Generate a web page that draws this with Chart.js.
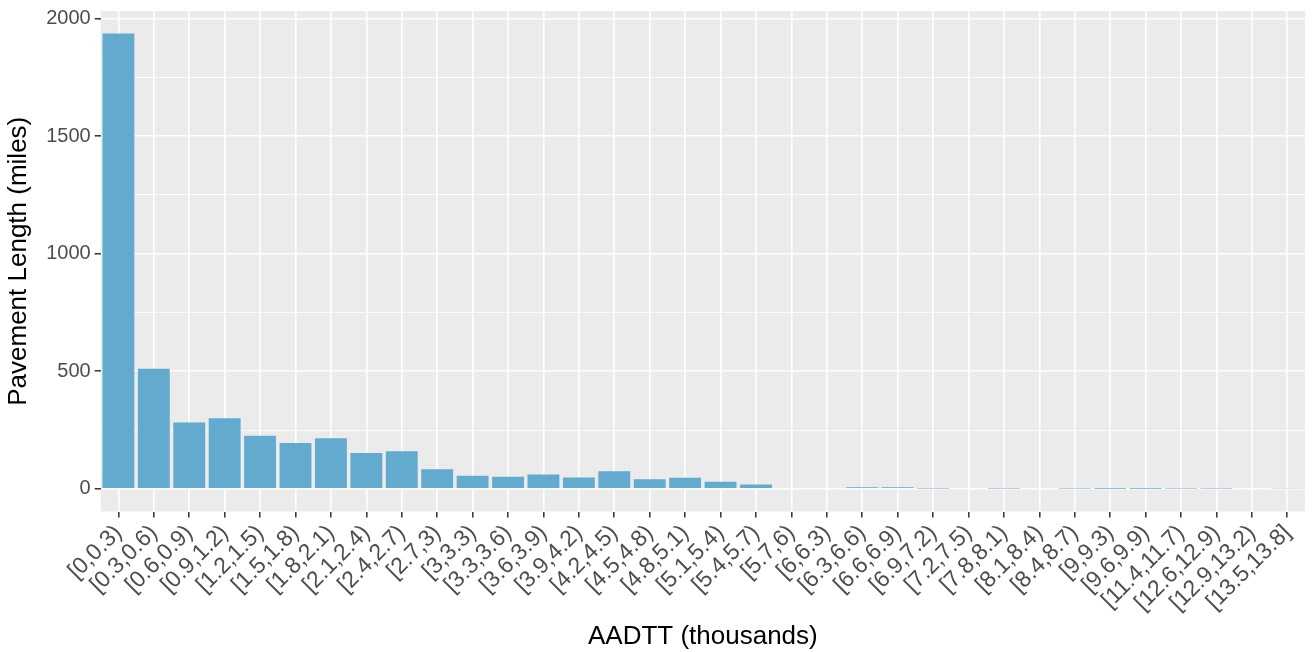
<!DOCTYPE html>
<html>
<head>
<meta charset="utf-8">
<script src="https://cdn.jsdelivr.net/npm/chart.js@4"></script>
<style>
  body { margin: 0; background: #fff; }
  #wrap { width: 1315px; height: 652px; }
</style>
</head>
<body>
<div id="wrap"><canvas id="bar-chart" width="1315" height="652"></canvas></div>
<script>
// AADTT bins (thousands)
const bins = [
  "[0,0.3)", "[0.3,0.6)", "[0.6,0.9)", "[0.9,1.2)", "[1.2,1.5)", "[1.5,1.8)",
  "[1.8,2.1)", "[2.1,2.4)", "[2.4,2.7)", "[2.7,3)", "[3,3.3)", "[3.3,3.6)",
  "[3.6,3.9)", "[3.9,4.2)", "[4.2,4.5)", "[4.5,4.8)", "[4.8,5.1)", "[5.1,5.4)",
  "[5.4,5.7)", "[5.7,6)", "[6,6.3)", "[6.3,6.6)", "[6.6,6.9)", "[6.9,7.2)",
  "[7.2,7.5)", "[7.8,8.1)", "[8.1,8.4)", "[8.4,8.7)", "[9,9.3)", "[9.6,9.9)",
  "[11.4,11.7)", "[12.6,12.9)", "[12.9,13.2)", "[13.5,13.8]"
];

// pavement length in miles
const miles = [
  1937, 511, 282, 300, 226, 195, 215, 152, 160, 83, 55, 51,
  61, 48, 75, 41, 47, 30, 18, 3, 3, 6, 6, 1,
  3, 1, 3, 1, 0.5, 0.5, 1, 1, 3, 2
];

const yMin = -96.8;
const yMax = 2032.8;

const FONT = "'Liberation Sans', Arial, Helvetica, sans-serif";

// grey ggplot-like panel
const panelBg = {
  id: 'panelBg',
  beforeDraw(chart) {
    const { ctx, chartArea: a } = chart;
    ctx.save();
    ctx.fillStyle = '#EBEBEB';
    ctx.fillRect(a.left, a.top, a.right - a.left, a.bottom - a.top);
    ctx.restore();
  }
};

new Chart(document.getElementById("bar-chart"), {
  type: 'bar',
  data: {
    labels: bins,
    datasets: [{
      data: miles,
      backgroundColor: '#63AACF',
      borderWidth: 0,
      categoryPercentage: 1,
      barPercentage: 0.9
    }]
  },
  plugins: [panelBg],
  options: {
    responsive: false,
    animation: false,
    layout: { padding: { top: 0, right: 10, left: 3, bottom: 0 } },
    plugins: {
      legend: { display: false },
      tooltip: { enabled: false }
    },
    scales: {
      x: {
        offset: true,
        border: { display: false },
        grid: {
          offset: false,
          color: '#FFFFFF',
          lineWidth: 1.6,
          tickColor: '#333333',
          tickWidth: 1.5,
          tickLength: 6
        },
        ticks: {
          autoSkip: false,
          maxRotation: 45,
          minRotation: 45,
          padding: 2,
          color: '#4D4D4D',
          font: { family: FONT, size: 23 }
        },
        title: {
          display: true,
          text: 'AADTT (thousands)',
          color: '#000000',
          padding: { top: 2, bottom: 0 },
          font: { family: FONT, size: 26 }
        }
      },
      y: {
        min: yMin,
        max: yMax,
        border: { display: false },
        // less room above the panel than chart.js reserves by default
        afterFit: s => { s.paddingTop = 11; },
        grid: {
          color: '#FFFFFF',
          lineWidth: ctx => (ctx.tick && ctx.tick.value % 500 === 0) ? 1.6 : 0.8,
          tickColor: ctx => (ctx.tick && ctx.tick.value % 500 === 0) ? '#333333' : 'rgba(0,0,0,0)',
          tickWidth: 1.5,
          tickLength: 6
        },
        ticks: {
          stepSize: 250,
          includeBounds: false,
          padding: 4,
          color: '#4D4D4D',
          font: { family: FONT, size: 20 },
          callback: v => (v % 500 === 0 ? v : '')
        },
        title: {
          display: true,
          text: 'Pavement Length (miles)',
          color: '#000000',
          padding: { top: 0, bottom: 8 },
          font: { family: FONT, size: 26 }
        }
      }
    }
  }
});
</script>
</body>
</html>
